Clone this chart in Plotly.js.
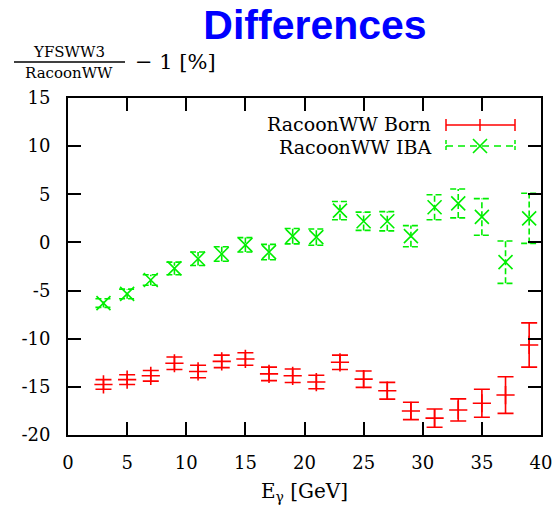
<!DOCTYPE html>
<html>
<head>
<meta charset="utf-8">
<script src="https://cdn.plot.ly/plotly-3.0.1.min.js"></script>
<style>html,body{margin:0;padding:0;background:#fff;}#plot{width:559px;height:509px;}</style>
</head>
<body>
<div id="plot"></div>
<script>
// ---- data ----
var energies = [3,5,7,9,11,13,15,17,19,21,23,25,27,29,31,33,35,37,39];
var bornDiff = [-14.75,-14.25,-13.85,-12.55,-13.4,-12.35,-12.1,-13.65,-13.85,-14.5,-12.45,-14.2,-15.4,-17.5,-18.25,-17.4,-16.7,-15.85,-10.65];
var bornErr  = [0.5,0.5,0.55,0.65,0.65,0.65,0.65,0.7,0.7,0.7,0.75,0.85,0.87,0.9,0.95,1.15,1.45,1.9,2.3];
var ibaDiff  = [-6.3,-5.35,-3.9,-2.7,-1.7,-1.2,-0.25,-1.0,0.65,0.55,3.3,2.2,2.2,0.65,3.65,4.05,2.65,-2.05,2.5];
var ibaErr   = [0.45,0.5,0.55,0.65,0.7,0.75,0.75,0.8,0.8,0.85,0.95,0.95,1.0,1.1,1.3,1.5,1.9,2.2,2.6];
var seriesNames = ['RacoonWW Born','RacoonWW IBA'];
var xTicks = [0,5,10,15,20,25,30,35,40];
var yTicks = [-20,-15,-10,-5,0,5,10,15];

// ---- layout geometry ----
var W = 559, H = 509, L = 68, R = 18, T = 98, B = 74;
var pw = W - L - R, ph = H - T - B;
function px(x){ return (x - L) / pw; }
function py(y){ return (H - B - y) / ph; }

var RED = '#ff0000', GREEN = '#00ee00';
var CAP = 0.68; // half cap width in data units (green dashed bars)

// dashed green error bars built from data
var gx = [], gy = [];
for (var i = 0; i < energies.length; i++) {
  var x = energies[i], lo = ibaDiff[i] - ibaErr[i], hi = ibaDiff[i] + ibaErr[i];
  gx.push(x, x, null, x - CAP, x + CAP, null, x - CAP, x + CAP, null);
  gy.push(lo, hi, null, hi, hi, null, lo, lo, null);
}

var traces = [
  {
    x: energies, y: bornDiff, type: 'scatter', mode: 'markers',
    marker: {symbol: 'cross-thin-open', size: 13, color: RED, line: {color: RED, width: 1.6}},
    error_y: {type: 'data', array: bornErr, visible: true, color: RED, thickness: 1.6, width: 8},
    showlegend: false, cliponaxis: false
  },
  {
    x: gx, y: gy, type: 'scatter', mode: 'lines',
    line: {color: GREEN, width: 1.6, dash: '6px,3px'},
    showlegend: false, hoverinfo: 'skip'
  },
  {
    x: energies, y: ibaDiff, type: 'scatter', mode: 'markers',
    marker: {symbol: 'x-thin-open', size: 14, color: GREEN, line: {color: GREEN, width: 1.6}},
    showlegend: false
  },
  // legend marker on an overlay axis (0..1 like paper)
  {
    x: [px(480)], y: [py(146)], xaxis: 'x2', yaxis: 'y2', type: 'scatter', mode: 'markers',
    marker: {symbol: 'x-thin-open', size: 14, color: GREEN, line: {color: GREEN, width: 1.6}},
    showlegend: false, hoverinfo: 'skip'
  }
];

var serif = 'DejaVu Serif, serif';
var shapes = [
  // fraction bar
  {type: 'line', xref: 'paper', yref: 'paper', x0: px(14), x1: px(125), y0: py(62), y1: py(62), line: {color: '#000', width: 1.5}},
  // legend: red sample
  {type: 'line', xref: 'paper', yref: 'paper', x0: px(446), x1: px(515), y0: py(125), y1: py(125), line: {color: RED, width: 1.5}},
  {type: 'line', xref: 'paper', yref: 'paper', x0: px(446), x1: px(446), y0: py(119), y1: py(131), line: {color: RED, width: 1.5}},
  {type: 'line', xref: 'paper', yref: 'paper', x0: px(515), x1: px(515), y0: py(119), y1: py(131), line: {color: RED, width: 1.5}},
  {type: 'line', xref: 'paper', yref: 'paper', x0: px(480), x1: px(480), y0: py(119), y1: py(131), line: {color: RED, width: 1.5}},
  // legend: green sample
  {type: 'line', xref: 'paper', yref: 'paper', x0: px(446), x1: px(515), y0: py(146), y1: py(146), line: {color: GREEN, width: 1.5, dash: '7px,5px'}},
  {type: 'line', xref: 'paper', yref: 'paper', x0: px(446), x1: px(446), y0: py(140), y1: py(152), line: {color: GREEN, width: 1.5, dash: '4px,2px'}},
  {type: 'line', xref: 'paper', yref: 'paper', x0: px(515), x1: px(515), y0: py(140), y1: py(152), line: {color: GREEN, width: 1.5, dash: '4px,2px'}}
];

var annotations = [
  {text: 'YFSWW3', xref: 'paper', yref: 'paper', x: px(69), y: py(52), xanchor: 'center', yanchor: 'middle', showarrow: false, font: {family: serif, size: 15, color: '#000'}},
  {text: 'RacoonWW', xref: 'paper', yref: 'paper', x: px(69), y: py(73), xanchor: 'center', yanchor: 'middle', showarrow: false, font: {family: serif, size: 15, color: '#000'}},
  {text: '− 1 [%]', xref: 'paper', yref: 'paper', x: px(133), y: py(62), xanchor: 'left', yanchor: 'middle', showarrow: false, font: {family: serif, size: 21, color: '#000'}},
  {text: seriesNames[0], xref: 'paper', yref: 'paper', x: px(433), y: py(124), xanchor: 'right', yanchor: 'middle', showarrow: false, font: {family: serif, size: 19, color: '#000'}},
  {text: seriesNames[1], xref: 'paper', yref: 'paper', x: px(433), y: py(147), xanchor: 'right', yanchor: 'middle', showarrow: false, font: {family: serif, size: 19, color: '#000'}}
];

var axisCommon = {
  showline: true, linecolor: '#000', linewidth: 2, mirror: 'ticks',
  ticks: 'inside', ticklen: 13, tickwidth: 2, tickcolor: '#000',
  showgrid: false, zeroline: false,
  tickfont: {family: serif, size: 18, color: '#000'}
};

var layout = {
  width: W, height: H,
  margin: {l: L, r: R, t: T, b: B, pad: 0},
  paper_bgcolor: '#fff', plot_bgcolor: '#fff',
  showlegend: false,
  title: {text: 'Differences', font: {family: 'Liberation Sans, Arial, sans-serif', size: 41, color: '#0000ff', weight: 'bold'},
          xref: 'paper', x: px(315), xanchor: 'center', yref: 'container', y: 1 - 25/H, yanchor: 'middle'},
  xaxis: Object.assign({}, axisCommon, {
    range: [0, 40], tickvals: xTicks, ticktext: xTicks.map(String), ticklabelstandoff: 10,
    title: {text: 'E<sub>γ</sub> [GeV]', font: {family: serif, size: 20, color: '#000'}, standoff: 12}
  }),
  yaxis: Object.assign({}, axisCommon, {
    range: [-20, 15], tickvals: yTicks, ticktext: yTicks.map(String), ticklabelstandoff: 12
  }),
  xaxis2: {overlaying: 'x', range: [0, 1], visible: false, fixedrange: true},
  yaxis2: {overlaying: 'y', range: [0, 1], visible: false, fixedrange: true},
  shapes: shapes,
  annotations: annotations
};

Plotly.newPlot('plot', traces, layout, {displayModeBar: false, staticPlot: true});
</script>
</body>
</html>
